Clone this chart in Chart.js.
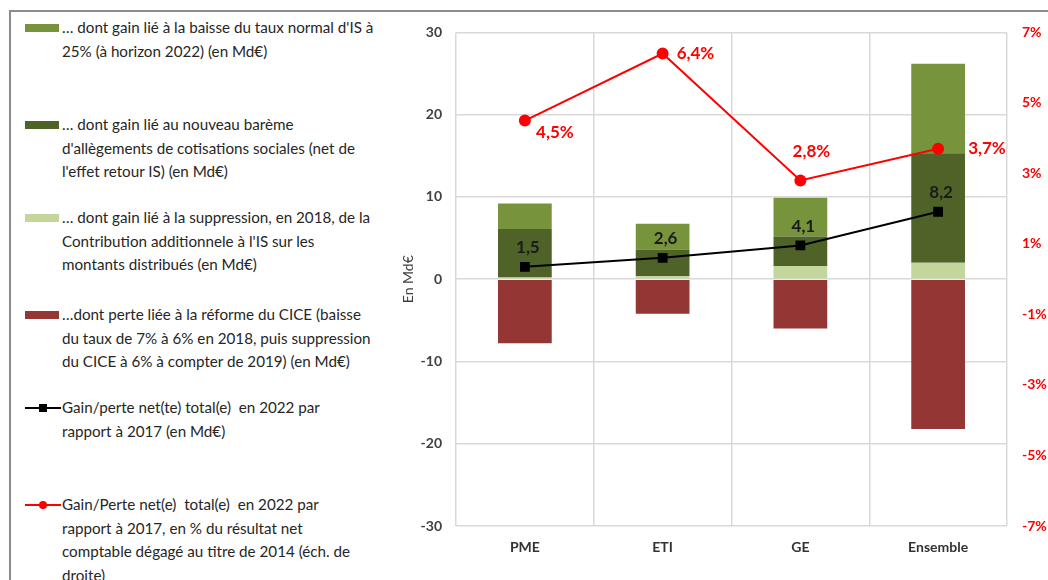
<!DOCTYPE html>
<html>
<head>
<meta charset="utf-8">
<script src="https://cdn.jsdelivr.net/npm/chart.js@4/dist/chart.umd.min.js"></script>
<style>
  html, body { margin: 0; padding: 0; background: #fff; }
  body { width: 1048px; height: 580px; position: relative; overflow: hidden; font-family: Lato, "Open Sans", sans-serif; }
  #cadre { position: absolute; left: 9px; top: 10px; width: 1060px; height: 600px; border-left: 2px solid #8c8c8c; border-top: 2px solid #8c8c8c; }
  #legende { position: absolute; left: 0; top: 0; width: 400px; }
  .item { position: absolute; left: 25px; font-size: 15.2px; color: #262626; line-height: 23.5px; }
  .item .sw { position: absolute; left: 0; top: 8px; width: 34px; height: 8px; }
  .item .txt { margin-left: 37px; white-space: pre; }
  .item svg { position: absolute; left: 0; top: 4px; }
  #zone { position: absolute; left: 400px; top: 9px; width: 648px; height: 571px; }
</style>
</head>
<body>
<div id="cadre"></div>
<div id="legende"></div>
<div id="zone"><canvas id="graphe"></canvas></div>
<script>
// --- DONNÉES ---
const categories = ['PME', 'ETI', 'GE', 'Ensemble'];
const gainTauxIS = [3.1, 3.15, 4.7, 10.9];
const gainAllegements = [5.9, 3.25, 3.6, 13.3];
const gainContribution = [0.2, 0.35, 1.6, 2.0];
const perteCICE = [-7.8, -4.2, -6.0, -18.2];
const netMds = [1.5, 2.6, 4.1, 8.2];
const netPct = [4.5, 6.4, 2.8, 3.7];
const ticksGauche = [-30, -20, -10, 0, 10, 20, 30];
const ticksDroite = [-7, -5, -3, -1, 1, 3, 5, 7];

const couleurs = {
    is: '#77933c',
    alleg: '#4f6228',
    contrib: '#c3d69b',
    cice: '#943634',
    net: '#000000',
    pct: '#ff0000'
};

const legendeTextes = [
    { t: ['… dont gain lié à la baisse du taux normal d\'IS à', '25% (à horizon 2022) (en Md€)'], c: couleurs.is, y: 16 },
    { t: ['… dont gain lié au nouveau barème', 'd\'allègements de cotisations sociales (net de', 'l\'effet retour IS) (en Md€)'], c: couleurs.alleg, y: 113 },
    { t: ['… dont gain lié à la suppression, en 2018, de la', 'Contribution additionnele à l\'IS sur les', 'montants distribués (en Md€)'], c: couleurs.contrib, y: 206 },
    { t: ['…dont perte liée à la réforme du CICE (baisse', 'du taux de 7% à 6% en 2018, puis suppression', 'du CICE à 6% à compter de 2019) (en Md€)'], c: couleurs.cice, y: 303 },
    { t: ['Gain/perte net(te) total(e)  en 2022 par', 'rapport à 2017 (en Md€)'], c: couleurs.net, y: 396, ligne: 'rect' },
    { t: ['Gain/Perte net(e)  total(e)  en 2022 par', 'rapport à 2017, en % du résultat net', 'comptable dégagé au titre de 2014 (éch. de', 'droite)'], c: couleurs.pct, y: 493, ligne: 'rond' }
];

function construireLegende() {
    const box = document.getElementById('legende');
    legendeTextes.forEach(item => {
        const d = document.createElement('div');
        d.className = 'item';
        d.style.top = item.y + 'px';
        let sw;
        if (item.ligne === 'rect') {
            sw = `<svg width="36" height="16"><line x1="0" y1="8" x2="36" y2="8" stroke="${item.c}" stroke-width="2"/><rect x="14" y="4" width="8" height="8" fill="${item.c}"/></svg>`;
        } else if (item.ligne === 'rond') {
            sw = `<svg width="36" height="16"><line x1="0" y1="8" x2="36" y2="8" stroke="${item.c}" stroke-width="2"/><circle cx="18" cy="8" r="4" fill="${item.c}"/></svg>`;
        } else {
            sw = `<div class="sw" style="background:${item.c}"></div>`;
        }
        d.innerHTML = sw + `<div class="txt">${item.t.join('\n')}</div>`;
        box.appendChild(d);
    });
}

// --- ÉTIQUETTES ---
const placementPct = [[30, 12], [14, 0, 'left'], [11, -29], [30, 0, 'left']];

const etiquettes = {
    id: 'etiquettes',
    afterDatasetsDraw(chart) {
        const ctx = chart.ctx;
        ctx.save();
        const mNet = chart.getDatasetMeta(4);
        ctx.font = 'bold 17px Lato';
        ctx.fillStyle = '#1a1a1a';
        ctx.textAlign = 'center';
        ctx.textBaseline = 'middle';
        mNet.data.forEach((p, i) => {
            ctx.fillText(netMds[i].toFixed(1).replace('.', ','), p.x + 3, p.y - 19);
        });
        const mPct = chart.getDatasetMeta(5);
        ctx.fillStyle = couleurs.pct;
        mPct.data.forEach((p, i) => {
            const pl = placementPct[i];
            ctx.textAlign = pl[2] || 'center';
            ctx.fillText(netPct[i].toFixed(1).replace('.', ',') + '%', p.x + pl[0], p.y + pl[1]);
        });
        ctx.restore();
    }
};

function inicializarGrafica() {
    const ctx = document.getElementById('graphe').getContext('2d');
    new Chart(ctx, {
        data: {
            labels: categories,
            datasets: [
                { type: 'bar', label: 'contrib', data: gainContribution, backgroundColor: couleurs.contrib, stack: 'barres', order: 2 },
                { type: 'bar', label: 'alleg', data: gainAllegements, backgroundColor: couleurs.alleg, stack: 'barres', order: 2 },
                { type: 'bar', label: 'is', data: gainTauxIS, backgroundColor: couleurs.is, stack: 'barres', order: 2 },
                { type: 'bar', label: 'cice', data: perteCICE, backgroundColor: couleurs.cice, stack: 'barres', order: 2 },
                { type: 'line', label: 'net', data: netMds, borderColor: couleurs.net, backgroundColor: couleurs.net,
                  borderWidth: 2, pointStyle: 'rect', pointRadius: 5.5, stack: 'net', order: 0, yAxisID: 'y' },
                { type: 'line', label: 'pct', data: netPct, borderColor: couleurs.pct, backgroundColor: couleurs.pct,
                  borderWidth: 2, pointStyle: 'circle', pointRadius: 5, stack: 'pct', order: 0, yAxisID: 'y1' }
            ]
        },
        options: {
            responsive: true, maintainAspectRatio: false, animation: false,
            layout: { padding: { top: 8 } },
            datasets: { bar: { barPercentage: 0.39, categoryPercentage: 1 } },
            plugins: { legend: { display: false }, tooltip: { enabled: false } },
            scales: {
                x: {
                    stacked: true,
                    grid: { color: '#d9d9d9', offset: true, drawTicks: false, lineWidth: 1.5 },
                    border: { display: false },
                    ticks: { color: '#333', font: { family: 'Lato', size: 14, weight: 'bold' }, padding: 13 },
                    afterFit(s) { s.height = 54; }
                },
                y: {
                    stacked: true, min: -30, max: 30,
                    afterBuildTicks(s) { s.ticks = ticksGauche.map(v => ({ value: v })); },
                    grid: { color: '#d9d9d9', drawTicks: false, lineWidth: 1.5 },
                    border: { display: false },
                    ticks: { color: '#404040', font: { family: 'Lato', size: 14, weight: 'bold' }, padding: 14 },
                    title: { display: true, text: 'En Md€', color: '#404040', font: { family: 'Lato', size: 14 }, padding: { top: 0, bottom: 0 } },
                    afterFit(s) { s.width = 56; }
                },
                y1: {
                    position: 'right', min: -7, max: 7,
                    afterBuildTicks(s) { s.ticks = ticksDroite.map(v => ({ value: v })); },
                    grid: { display: false, drawTicks: false },
                    border: { display: false },
                    ticks: { color: couleurs.pct, font: { family: 'Lato', size: 14, weight: 'bold' }, padding: 15,
                             callback: v => v + '%' },
                    afterFit(s) { s.width = 41; }
                }
            }
        },
        plugins: [etiquettes]
    });
}

construireLegende();
inicializarGrafica();
</script>
</body>
</html>
